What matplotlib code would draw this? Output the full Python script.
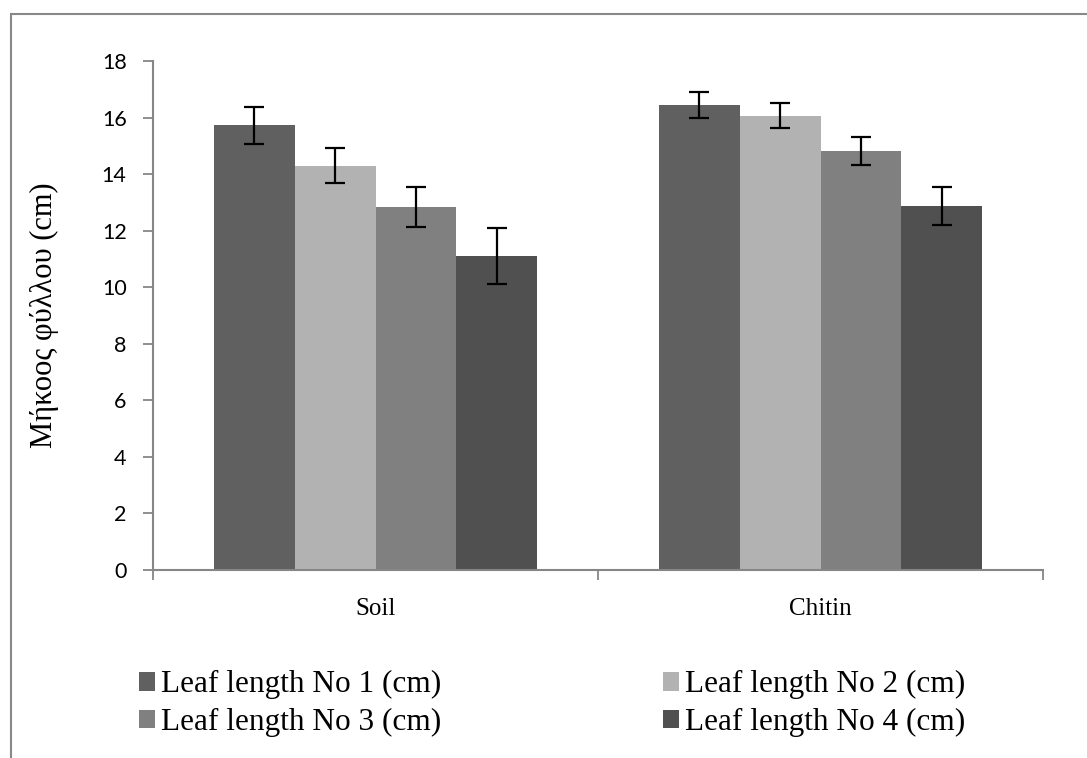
import matplotlib.pyplot as plt
import numpy as np
from matplotlib.patches import Rectangle, Patch

# dane
categories = ['Soil', 'Chitin']
series_names = ['Leaf length No 1 (cm)', 'Leaf length No 2 (cm)',
                'Leaf length No 3 (cm)', 'Leaf length No 4 (cm)']
leaf1 = [15.72, 16.45]
leaf2 = [14.29, 16.07]
leaf3 = [12.83, 14.83]
leaf4 = [11.11, 12.88]
err1 = [0.65, 0.47]
err2 = [0.62, 0.44]
err3 = [0.70, 0.50]
err4 = [1.00, 0.67]
yticks = [0, 2, 4, 6, 8, 10, 12, 14, 16, 18]

colors = ['#606060', '#b2b2b2', '#808080', '#505050']
axis_gray = '#868686'

values = [leaf1, leaf2, leaf3, leaf4]
errors = [err1, err2, err3, err4]

fig = plt.figure(figsize=(10.87, 7.58), dpi=100)
ax = fig.add_axes([0.1408, 0.2480, 0.8188, 0.6715])

x = np.arange(len(categories))
width = 0.1814
for i in range(len(values)):
    ax.bar(x + (i - 1.5) * width, values[i], width, color=colors[i], zorder=2)
    ax.errorbar(x + (i - 1.5) * width, values[i], yerr=errors[i], fmt='none',
                ecolor='black', elinewidth=1.6, capsize=7, capthick=1.6, zorder=3)

ax.set_xlim(-0.5, 1.5)
ax.set_ylim(0, 18)
ax.set_yticks(yticks)
ax.set_yticklabels([str(t) for t in yticks], fontfamily='Lato', fontsize=15.5)

# kategorie - podpisy bez ticków, ticki na granicach
ax.set_xticks([-0.5, 0.5, 1.5])
ax.set_xticklabels(['', '', ''])
ax.set_xticks(x, minor=True)
ax.set_xticklabels(categories, minor=True, fontfamily='Liberation Serif', fontsize=18)
ax.tick_params(axis='x', which='minor', length=0, pad=20)
ax.tick_params(axis='x', which='major', length=7, color=axis_gray, width=1.3, direction='out')
ax.tick_params(axis='y', length=7, color=axis_gray, width=1.3, direction='out', pad=12)

for s in ['top', 'right']:
    ax.spines[s].set_visible(False)
for s in ['left', 'bottom']:
    ax.spines[s].set_color(axis_gray)
    ax.spines[s].set_linewidth(1.5)

ax.set_ylabel('Μήκοος φύλλου (cm)', fontfamily='Liberation Serif', fontsize=22, labelpad=31)

# legenda
handles = [Patch(facecolor=c, edgecolor='none') for c in colors]
order = [0, 2, 1, 3]
fig.legend([handles[k] for k in order], [series_names[k] for k in order],
           ncol=2, loc='upper left', bbox_to_anchor=(0.128, 0.116),
           prop={'family': 'Liberation Serif', 'size': 22.5},
           frameon=False, handlelength=0.5, handleheight=0.55,
           handletextpad=0.2, columnspacing=7.1, labelspacing=0.28,
           borderpad=0, borderaxespad=0)

# ramka wykresu
fig.patches.append(Rectangle((0.0097, -0.05), 1.1, 0.032 + 1.0, transform=fig.transFigure,
                             fill=False, edgecolor='#888888', linewidth=1.5))

fig.savefig('out.png', dpi=100)
